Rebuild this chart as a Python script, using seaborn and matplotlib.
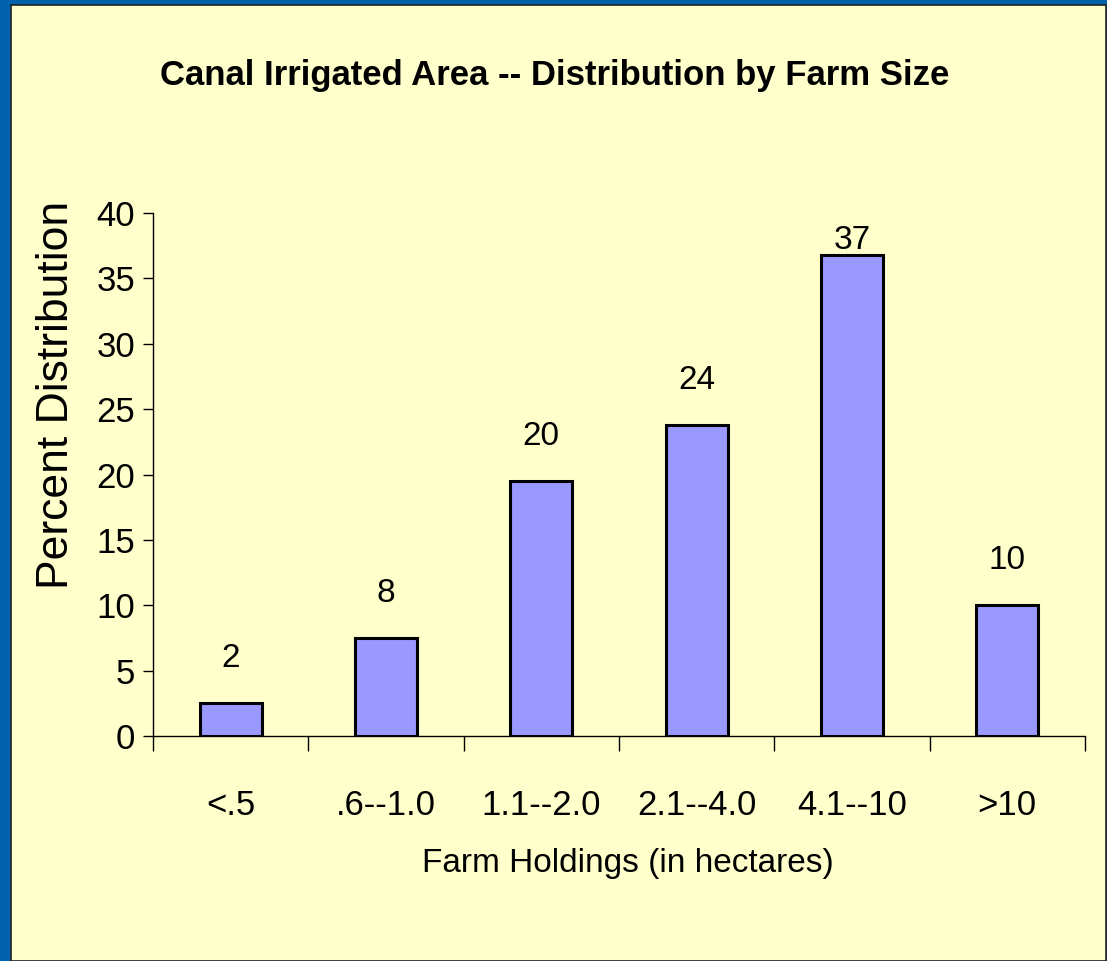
import numpy as np
import pandas as pd
from matplotlib import pyplot as plt
from matplotlib.patches import Rectangle
from matplotlib.ticker import FixedLocator
import seaborn as sns

# Chart data
farm_sizes = ['<.5', '.6--1.0', '1.1--2.0', '2.1--4.0', '4.1--10', '>10']
percent = [2.5, 7.5, 19.5, 23.8, 36.8, 10.0]
value_labels = ['2', '8', '20', '24', '37', '10']
y_ticks = [0, 5, 10, 15, 20, 25, 30, 35, 40]

df = pd.DataFrame({'size': farm_sizes, 'percent': percent})

sns.set_style('white')
plt.rcParams['font.family'] = ['Liberation Sans', 'DejaVu Sans']
plt.rcParams['text.color'] = 'black'
plt.rcParams['axes.labelcolor'] = 'black'
plt.rcParams['xtick.color'] = 'black'
plt.rcParams['ytick.color'] = 'black'

yellow = '#FFFFCC'
blue = '#0062AC'

fig = plt.figure(figsize=(11.07, 9.61), dpi=100)
fig.patch.set_facecolor(blue)
# light yellow slide panel
fig.patches.append(Rectangle((0.0099, 0), 0.9892, 0.9948, transform=fig.transFigure,
                             facecolor=yellow, edgecolor='#222222', linewidth=1.2, zorder=0))

ax = fig.add_axes([0.1382, 0.2341, 0.8419, 0.5442])
ax.set_zorder(2)
ax.set_facecolor(yellow)

sns.barplot(data=df, x='size', y='percent', color='#9999FF', edgecolor='black',
            linewidth=2.2, width=0.4, saturation=1, ax=ax)

# value labels above the bars
for i, (v, lab) in enumerate(zip(percent, value_labels)):
    ax.text(i, min(v + 3.4, 37.9), lab, ha='center', va='center', fontsize=24)

ax.set_xlim(-0.5, 5.5)
ax.set_ylim(0, 40)
ax.set_yticks(y_ticks)
ax.tick_params(axis='y', labelsize=25, length=7, width=1, direction='out', left=True, pad=6)
ax.tick_params(axis='x', which='major', labelsize=25, length=0, pad=38)
ax.xaxis.set_minor_locator(FixedLocator(np.arange(-0.5, 6, 1)))
ax.tick_params(axis='x', which='minor', length=11, width=1, direction='out', bottom=True)

for s in ['top', 'right']:
    ax.spines[s].set_visible(False)
for s in ['left', 'bottom']:
    ax.spines[s].set_color('black')
    ax.spines[s].set_linewidth(1)

ax.set_xlabel('Farm Holdings (in hectares)', fontsize=24, va='top')
ax.xaxis.set_label_coords(0.51, -0.215)
ax.set_ylabel('Percent Distribution', fontsize=32)
ax.yaxis.set_label_coords(-0.082, 0.652)

fig.text(0.5013, 1 - 75 / 961, 'Canal Irrigated Area -- Distribution by Farm Size',
         ha='center', va='center', fontsize=25, fontweight='bold')

fig.savefig('out.png', dpi=100, facecolor=fig.get_facecolor())
